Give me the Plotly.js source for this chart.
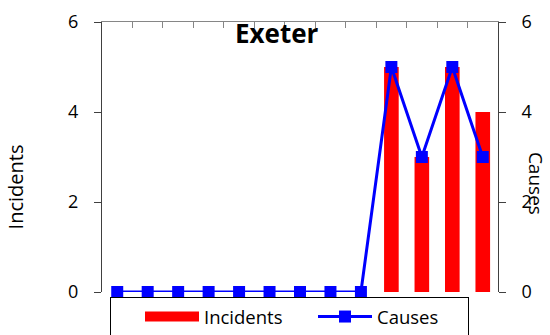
<!DOCTYPE html>
<html>
<head>
<meta charset="utf-8">
<script src="https://cdn.plot.ly/plotly-3.0.1.min.js"></script>
<style>
  html, body { margin: 0; padding: 0; background: #fff; }
  #chart { width: 550px; height: 335px; }
</style>
</head>
<body>
<div id="chart"></div>
<script>
// Thirteen reporting periods for Exeter
const periods = ['1', '2', '3', '4', '5', '6', '7', '8', '9', '10', '11', '12', '13'];
const incidents = [0, 0, 0, 0, 0, 0, 0, 0, 0, 5, 3, 5, 4];
const causes = [0, 0, 0, 0, 0, 0, 0, 0, 0, 5, 3, 5, 3];

const FONT = '"Open Sans", "Liberation Sans", sans-serif';
const RED = '#FF0000';
const BLUE = '#0000FF';

const traces = [
  {
    type: 'bar',
    name: 'Incidents',
    x: periods,
    y: incidents,
    marker: { color: RED },
    showlegend: false,
    hoverinfo: 'x+y'
  },
  // wide red legend key for the bar series (no points of its own)
  {
    type: 'scatter',
    mode: 'lines',
    name: 'Incidents',
    x: [periods[0]],
    y: [null],
    line: { color: RED, width: 15 },
    legendwidth: 75,
    hoverinfo: 'skip'
  },
  {
    type: 'scatter',
    mode: 'lines+markers',
    name: 'Causes',
    x: periods,
    y: causes,
    yaxis: 'y2',
    line: { color: BLUE, width: 3 },
    marker: { color: BLUE, symbol: 'square', size: 12 },
    cliponaxis: false,
    legendwidth: 86
  }
];

const layout = {
  width: 550,
  height: 335,
  margin: { l: 102, r: 52, t: 22, b: 43, pad: 0 },
  paper_bgcolor: '#fff',
  plot_bgcolor: '#fff',
  font: { family: FONT, size: 18, color: '#000' },
  showlegend: true,
  bargap: 0.52,
  title: {
    text: 'Exeter',
    font: { family: FONT, size: 26, weight: 'bold', color: '#000' },
    xref: 'container',
    x: 0.503,
    yref: 'container',
    y: 0.898,
    xanchor: 'center',
    yanchor: 'middle'
  },
  xaxis: {
    type: 'category',
    categoryorder: 'array',
    categoryarray: periods,
    range: [-0.5, periods.length - 0.5],
    side: 'top',
    showline: true,
    linecolor: '#868686',
    linewidth: 1,
    ticks: 'inside',
    ticklen: 6,
    tickcolor: '#868686',
    tickson: 'boundaries',
    showticklabels: false,
    showgrid: false,
    zeroline: false,
    fixedrange: true
  },
  yaxis: {
    range: [0, 6],
    dtick: 2,
    showline: true,
    linecolor: '#404040',
    linewidth: 1,
    ticks: 'outside',
    ticklen: 7,
    tickcolor: '#404040',
    ticklabelstandoff: 12,
    showgrid: false,
    zeroline: false,
    tickfont: { family: FONT, size: 18, color: '#000' },
    fixedrange: true
  },
  yaxis2: {
    overlaying: 'y',
    side: 'right',
    range: [0, 6],
    dtick: 2,
    showline: true,
    linecolor: '#404040',
    linewidth: 1,
    ticks: 'outside',
    ticklen: 7,
    tickcolor: '#404040',
    ticklabelstandoff: 12,
    showgrid: false,
    zeroline: false,
    tickfont: { family: FONT, size: 18, color: '#000' },
    fixedrange: true
  },
  legend: {
    orientation: 'h',
    xref: 'container',
    yref: 'container',
    x: 0.2,
    xanchor: 'left',
    y: 0.1134,
    yanchor: 'top',
    bgcolor: '#fff',
    bordercolor: '#000',
    borderwidth: 1,
    itemwidth: 54,
    indentation: 29,
    font: { family: FONT, size: 18.5, color: '#000' },
    traceorder: 'normal'
  },
  annotations: [
    {
      text: 'Incidents',
      xref: 'paper', yref: 'paper',
      x: -0.2185, y: 0.389,
      xanchor: 'center', yanchor: 'middle',
      textangle: -90,
      showarrow: false,
      font: { family: FONT, size: 20, color: '#000' }
    },
    {
      text: 'Causes',
      xref: 'paper', yref: 'paper',
      x: 1.096, y: 0.404,
      xanchor: 'center', yanchor: 'middle',
      textangle: 90,
      showarrow: false,
      font: { family: FONT, size: 19, color: '#000' }
    }
  ]
};

Plotly.newPlot('chart', traces, layout, { displayModeBar: false, staticPlot: true });
</script>
</body>
</html>
